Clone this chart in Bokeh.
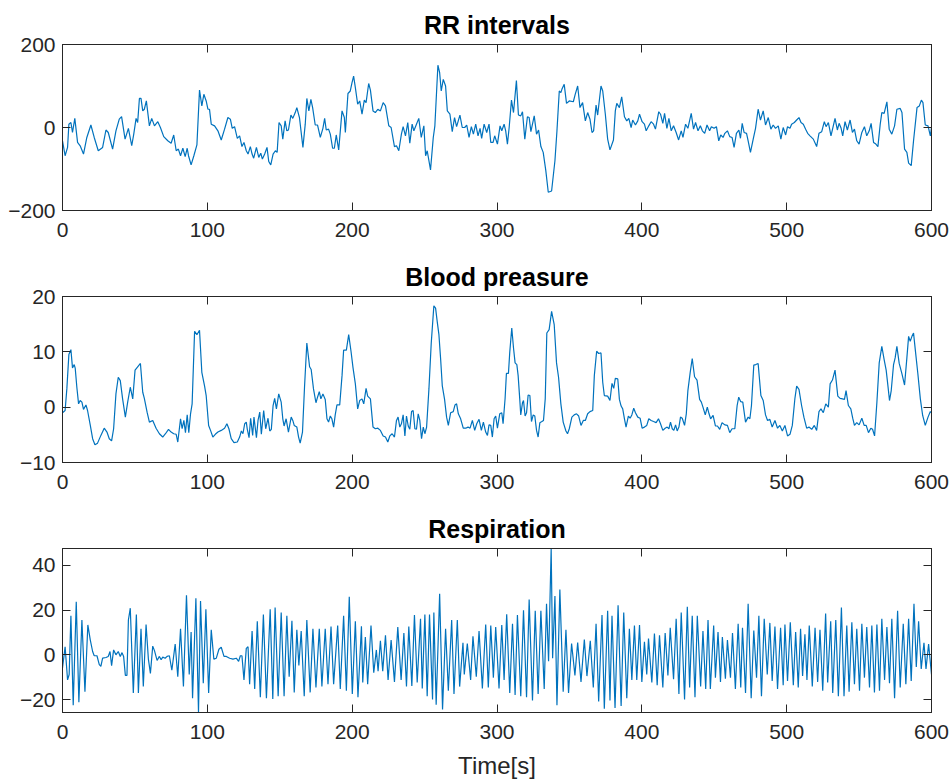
from bokeh.plotting import figure
from bokeh.layouts import column
from bokeh.models import (Range1d, LinearAxis, FixedTicker, ColumnDataSource,
                          CustomJSTickFormatter, CustomLabelingPolicy)
from bokeh.embed import file_html
from bokeh.resources import INLINE

# ---------------- data ----------------
rr_time = [
    0, 1.8, 3.5, 4.4, 5.8, 6.9, 8.5, 10.4, 12.2, 14.5,
    16.8, 19.6, 21.9, 24.7, 27.7, 30, 31.6, 34.6, 36.9, 39.2,
    40.8, 43.2, 45.5, 47.8, 49.2, 50.8, 51.9, 53.1, 54.2, 55.4,
    56.5, 57.9, 60, 61.6, 63.5, 65.8, 67.6, 69.9, 72.7, 75,
    76.8, 78.5, 80, 81.5, 83.1, 84.7, 86.1, 87, 88.8, 90.7,
    92.8, 94.6, 96.2, 97.6, 99.2, 100.4, 101.5, 102.7, 105, 107.3,
    109.6, 111.9, 114.2, 115.9, 117.2, 118.8, 120.7, 122.3, 123.9, 125.3,
    126.9, 128.1, 129.7, 130.9, 132, 133.9, 135.5, 136.9, 138, 139.6,
    141.2, 142.4, 143.8, 145.4, 147, 148.2, 149.5,
    151, 152.1, 153.7, 154.9, 156, 157.7, 159, 160.7, 161.8, 163.6,
    166, 167.6, 168.7, 170.1, 171.5, 172.7, 174.5, 176.1, 178, 179.8,
    181, 182.1, 183.7, 184.9, 186.5, 187.7, 189, 190.7, 193, 194.6,
    195.3, 197.1, 198.7, 199.9, 201, 202.2, 203.8, 205.2, 206.8, 208.4,
    209.6, 211.4, 212.6, 214.4, 216, 217.7, 219.5, 221.4, 223, 225.3,
    226.9, 229.2, 230.6, 232.2, 234, 235.2, 236.8, 238.4, 239.8, 241.4,
    242.6, 244.4, 246, 247.7, 249.5, 250.7, 251.8, 254.1, 256, 257.1,
    259.2, 260.4, 261.5, 262.9, 264.5, 265.7, 267.5, 269.1, 270.7, 272.1,
    274.4, 276, 277.7, 279.1, 280.7, 282.3, 283.7, 285.3, 286.9, 288.3,
    289.4, 291.1, 292.9, 294.5, 295.7, 297.3, 298.4,
    300.3, 302.1, 303.3, 304.9, 306, 307.2, 308.4, 310, 311.4, 313.4,
    314.8, 316.4, 317.6, 319.2, 321, 322.2, 323.4, 325.7, 327.3, 328.7,
    330.3, 331.9, 333.7, 335.4, 337.7, 340, 341.4, 343, 344.1, 344.8,
    346.4, 348, 349.9, 352.7, 354, 355.7, 357.3, 359.1, 361, 362.6,
    364.2, 365.6, 366.7, 368.4, 369.5, 371.8, 373, 374.8, 376.4, 378,
    380.4, 381.7, 382.7, 384.5, 386.1, 388, 389.6, 391, 392.6, 393.7,
    395.6, 397.2, 398.4, 400.2, 401.8, 403, 404.8, 406.4, 408.1, 409.4,
    411.7, 412.9, 414.5, 415.7, 417.3, 418.7, 420.3, 421.9, 423.7, 425.4,
    427.2, 428.4, 430.2, 431.8, 434.1, 435.7, 437.1, 438.8, 440.4, 441.8,
    443.4, 445, 446.8,
    448, 449.9, 451.5, 453.1, 454.5, 456.1, 457.3, 459.1, 460.7, 462.3,
    463.7, 465.3, 467, 468.1, 469.3, 470.6, 472.3, 473.4, 475, 476.9,
    478.5, 480.3, 481.9, 483.8, 485.4, 487.3, 489.1, 490.7, 492.3, 494.2,
    496, 497.6, 499.3, 500.6, 502.3, 503.4, 505.3, 506.9, 508.5, 509.9,
    511.5, 513.1, 514.5, 516.1, 518.4, 520.7, 522.3, 524.2, 526, 527.2,
    528.8, 530.6, 531.8, 533.4, 535, 536.2, 537.6, 538.7, 540.3, 541.9,
    543.8, 545.4, 546.8, 548.4, 550, 551.9, 553.7, 555.3, 557, 558.3,
    560, 561.6, 563, 564.6, 565.7, 567.3, 569.2, 570.8, 572.6, 574.5,
    576.1, 578.4, 579.6, 581.4, 583, 584.2, 586, 587.6, 590, 591.6,
    593, 594.1, 595.7, 597.6, 599.2, 600,
]
rr_value = [
    -32, -68, -48, 8, 12, -12, 22, -36, -44, -64,
    -24, 6, -24, -56, -48, -6, -12, -52, -8, 20,
    26, -28, -2, -44, -16, 22, 12, 70, 70, 40,
    44, 64, 4, 22, 4, 14, 0, -22, -32, -38,
    -18, -56, -52, -68, -50, -70, -50, -68, -90, -68,
    -42, 90, 52, 80, 64, 44, 44, 8, 4, -8,
    -30, -4, 24, 20, -2, 2, -26, -20, -46, -36,
    -56, -64, -46, -64, -74, -48, -72, -62, -76, -64,
    -48, -82, -90, -64, -56, -60, 12,
    4, -28, 16, -8, -6, 30, 22, 36, 48, 24,
    -48, 8, 70, 40, 68, 48, 6, 6, -24, -2,
    22, -6, -4, -16, -50, -50, -18, -54, 40, 24,
    -12, 82, 88, 108, 124, 96, 56, 64, 32, 66,
    60, 106, 90, 40, 36, 44, 40, 60, 52, 4,
    0, -46, -44, -56, -16, 2, -20, 12, -38, 8,
    -8, 8, 22, -24, 4, -68, -56, -102, -24, 4,
    150, 132, 88, 116, 100, 40, 32, -10, 24, 2,
    30, 0, 0, 6, -24, 2, -16, 8, -20, -2,
    -26, 8, -12, 8, -36, -36, -20,
    -40, 4, -8, 8, -8, -40, 0, 66, 36, 113,
    30, 28, 38, -28, 26, 24, -10, 28, -16, -6,
    -46, -60, -104, -156, -153, -80, -8, 88, 84, 92,
    104, 58, 64, 62, 80, 100, 48, 60, 16, 36,
    20, -12, -8, 54, 30, 100, 88, 32, -28, -54,
    -30, 40, 58, 48, 74, 26, 16, 22, 0, 18,
    6, 16, 32, 14, 8, -8, 4, 14, 8, -4,
    38, 32, 10, 34, -2, 22, -8, 4, -12, -30,
    -8, -24, 8, -2, 34, -4, 12, -8, 4, -8,
    -14, 6, -8,
    2, -2, 2, -32, -18, -24, -14, -8, -22, -24,
    -48, -14, -6, -26, 10, -12, -14, -32, -60, -28,
    -2, 44, 18, 40, 6, 24, -4, 6, -2, 4,
    -28, 0, -18, 2, -2, 8, 12, 18, 24, 12,
    8, -4, -14, -20, -28, -46, -14, -10, 14, 2,
    12, -20, -2, 22, -6, 10, -2, -20, 14, -6,
    18, -12, -4, -32, -40, -12, 2, -20, -8, 10,
    -36, -40, -46, 8, 36, 34, 62, -4, -16, 4,
    44, 46, 36, -52, -60, -86, -92, -32, 48, 52,
    66, 60, 6, 4, -20, 0,
]

bp_time = [
    0, 1.8, 3, 4.4, 5.8, 6.9, 8.1, 8.8, 9.9, 11.1,
    12.2, 13.4, 14.5, 16.2, 17.3, 19.2, 20.8, 22.4, 24.2, 26.5,
    28.8, 30.7, 32.3, 33.9, 35.3, 36.9, 38.5, 39.9, 41.5, 43.4,
    45, 46.8, 48.5, 50.1, 51.9, 53.8, 55.4, 56.5, 58.4, 60,
    62.3, 64.6, 66.9, 69.2, 71.1, 73.2, 75, 76.8, 78.5, 79.6,
    81.5, 82.6, 83.8, 84.9, 86.1, 87.2, 88.4, 89.5, 91.2, 92.8,
    94.6, 96.2, 98.1, 99.2, 100.9, 102.2, 103.8, 105.5, 107.3, 109.6,
    111.9, 113.5, 114.9, 116.5, 118.4, 120.7, 122.3, 123.5, 124.6, 125.8,
    126.9, 127.6, 128.8, 129.9, 131.3, 132.2, 133.9, 135, 136.2, 137.3,
    138.9, 140.3, 141.9, 143.1, 144.2, 145.4, 146.5, 147.7, 149.3,
    151, 152.1, 153, 154.4, 156, 157.9, 159, 160, 161.8, 163,
    164.1, 165.7, 167.1, 168.7, 170.6, 171.7, 173.3, 175, 176.1, 177.3,
    178.4, 179.8, 181.4, 182.6, 183.7, 184.9, 186, 187.2, 188.3, 189.5,
    191.4, 193, 194.1, 196, 197.6, 199.2, 200.6, 202.2, 203.8, 205.2,
    206.8, 208, 209.6, 210.7, 212.6, 214.4, 216, 217.7, 219.5, 221.4,
    223, 224.6, 226, 227.6, 229.2, 230.6, 231.7, 232.9, 234, 235.2,
    236.4, 237.5, 238.7, 239.8, 241, 242.1, 243.3, 244.4, 245.6, 246.7,
    247.9, 249.1, 250.2, 251.4, 253, 254.6, 256.4, 257.6, 258.7, 259.9,
    261.1, 262.2, 263.8, 265.2, 266.4, 268, 269.8, 271, 272.1, 273.3,
    274.9, 276.7, 278.4, 280, 281.4, 283, 284.6, 286, 287.6, 289.2,
    290.6, 292.2, 293.4, 294.5, 295.7, 296.8, 298, 299.1,
    300.3, 301.9, 303.3, 304.2, 305.6, 306.5, 307.9, 308.8, 310.2, 311.4,
    312.5, 313.7, 314.6, 315.7, 316.4, 317.6, 318.3, 319.4, 320.4, 321.5,
    322.7, 323.8, 325, 326.1, 327.3, 328.4, 329.6, 331, 332.1, 333.3,
    334.4, 336, 337.7, 339.5, 341.1, 342.5, 344.1, 345.7, 347.6, 348.7,
    349.9, 351.7, 353.3, 354.9, 356.4, 358, 359.6, 361, 362.6, 364.2,
    366.1, 367.2, 368.8, 370.2, 371.8, 373, 374.1, 376.4, 378, 379.4,
    380.6, 381.7, 383.4, 384.5, 385.7, 386.8, 388, 389.1, 390.7, 391.9,
    393.1, 394.4, 395.6, 397.2, 398.8, 400.2, 401.8, 403.4, 404.8, 406.4,
    408.1, 409.9, 411.5, 412.9, 414.5, 416.1, 417.5, 418.7, 419.8, 421,
    422.1, 423.3, 424.4, 425.6, 426.7, 427.9, 429.5, 430.7, 431.8, 433.4,
    434.8, 436.4, 438.1, 439.9, 441.1, 442.2, 443.8, 445.2, 446.4, 447.5,
    449.2, 450.8, 452.2, 453.8, 455.4, 457.3, 459.1, 460.7, 462.3, 464.2,
    465.8, 466.9, 468.3, 469.7, 471.6, 473.4, 474.6, 475.7, 477.3, 478.7,
    480.3, 482.2, 483.8, 485.4, 486.8, 488.4, 490, 491.9, 493.7, 495.3,
    497, 498.8, 500.6, 502.3, 503.9, 505.7, 506.9, 508.5, 510.3, 511.9,
    513.8, 515.4, 517.3, 519.1, 520.7, 522.3, 523.7, 525.3, 527, 528.8,
    530, 531.6, 533.4, 535.3, 536.9, 538.5, 539.9, 541, 542.6, 544.3,
    545.6, 546.8, 548.4, 550, 551.9, 553.5, 554.9, 556.5, 558.1, 559.3,
    560.7, 562.3, 563.9, 565.7, 567.3, 568.7, 569.9, 571, 572.2, 573.8,
    574.9, 576.1, 577.7, 579.6, 581.4, 583, 584.2, 585.3, 586.5, 587.6,
    588.8, 590.6, 592.3, 593.9, 595.7, 597.6, 599.2, 600,
]
bp_value = [
    -1.0, -0.6, 3.3, 9.5, 10.4, 7.1, 7.7, 7.0, 3.6, 0.6,
    1.2, 0.9, -0.4, 0.4, -0.6, -3.3, -5.7, -6.8, -6.5, -5.1,
    -3.8, -4.5, -5.7, -6.1, -3.9, 2.4, 5.4, 4.8, 1.5, -1.8,
    0.9, 3.6, 1.5, 6.7, 7.3, 7.9, 2.7, 1.6, -0.9, -2.7,
    -2.4, -3.8, -4.8, -5.4, -4.8, -4.0, -4.5, -4.8, -4.9, -6.3,
    -2.1, -3.9, -2.4, -4.6, -1.4, -4.6, -1.2, 0.6, 13.7, 13.1,
    13.9, 6.3, 3.8, 2.1, -3.3, -4.2, -5.4, -4.9, -4.5, -4.2,
    -3.8, -3.0, -3.9, -5.7, -6.4, -6.3, -5.4, -4.3, -4.8, -3.0,
    -2.7, -4.0, -5.5, -2.0, -5.1, -1.8, -5.5, -2.4, -0.9, -4.9,
    -0.6, -3.9, -2.0, -4.3, -4.0, 0.3, 1.6, -0.3, 2.4,
    0.9, -2.1, -3.4, -2.1, -4.5, -1.8, -2.4, -3.3, -3.6, -5.4,
    -6.5, -4.5, 3.6, 11.6, 7.3, 6.8, 3.3, 0.8, 1.8, 2.8,
    1.5, 2.4, 1.4, -2.1, -2.7, -1.6, -2.1, -3.6, -1.4, 0.4,
    0.4, 5.7, 10.3, 10.3, 13.1, 10.1, 7.1, 4.2, -0.3, 1.2,
    1.5, 0.6, 3.4, 2.0, 1.5, -3.6, -3.9, -3.8, -4.2, -5.2,
    -5.4, -6.3, -5.2, -4.8, -5.4, -2.4, -1.8, -3.6, -3.0, -1.4,
    -5.2, -1.6, -3.4, -4.0, -0.8, -0.6, -3.9, -4.0, -1.2, -2.4,
    -5.7, -3.6, -4.8, -3.6, 3.3, 11.6, 18.3, 17.9, 15.5, 13.1,
    8.6, 3.9, 1.4, -1.8, -3.3, -1.0, -0.8, 0.4, 0.6, -1.2,
    -2.1, -3.8, -3.8, -3.6, -3.8, -2.4, -4.2, -3.0, -2.2, -4.2,
    -2.7, -4.5, -5.1, -3.2, -3.3, -5.4, -2.1, -1.6,
    -3.8, -1.2, -1.0, -3.0, 1.6, 6.1, 6.1, 9.9, 14.3, 10.7,
    8.0, 7.7, 5.7, 1.5, -1.4, 0.8, 1.2, -1.6, -1.0, 2.2,
    2.1, -2.6, -1.4, -1.6, -4.2, -5.4, -2.8, -2.6, -2.4, 1.5,
    13.4, 14.0, 17.3, 14.9, 8.0, 5.4, 0.6, -2.7, -4.3, -4.8,
    -3.9, -1.8, -1.4, -1.2, -1.6, -3.3, -2.4, -2.4, -1.2, -0.8,
    -0.6, 5.7, 10.1, 9.7, 9.8, 4.5, 2.1, 2.0, 1.2, 4.3,
    3.4, 5.2, 5.1, 1.4, 0.2, -0.3, -2.1, -3.6, -1.6, -2.0,
    -1.4, -0.2, -1.0, -1.8, -2.0, -3.8, -3.6, -3.3, -2.1, -2.4,
    -2.6, -2.8, -2.1, -3.0, -4.2, -3.8, -3.6, -3.9, -2.7, -3.9,
    -4.2, -3.2, -4.3, -3.6, -1.8, -2.0, -3.3, -1.2, 3.0, 6.3,
    8.8, 5.5, 4.9, 1.4, 0.9, 0, -1.4, 0, -1.2, -2.1,
    -1.5, -3.4, -3.4, -4.0, -2.8, -3.2, -3.3, -4.6, -3.9, -3.9,
    0.3, 1.8, 1.0, 0.9, -2.7, -1.8, -2.1, 0.3, 7.6, 7.7,
    7.9, 2.1, 1.2, -1.4, -2.4, -2.2, -3.6, -2.4, -3.8, -3.3,
    -4.3, -3.3, -5.2, -4.9, -3.3, 1.6, 3.8, 3.2, 0.3, -1.8,
    -3.8, -3.6, -4.0, -3.3, -4.2, -0.8, -0.3, -1.0, 0.6, 0,
    4.2, 4.9, 6.7, 2.0, 1.6, 1.5, 1.4, 3.0, 0.3, -0.3,
    -2.0, -3.3, -2.8, -3.2, -2.0, -3.3, -3.3, -4.6, -3.8, -4.0,
    -5.2, 0.9, 8.0, 11.0, 8.6, 6.7, 3.9, 1.2, 3.0, 7.7,
    8.9, 11.0, 7.9, 6.0, 4.0, 8.9, 12.8, 11.9, 12.8, 13.4,
    10.4, 6.0, 1.5, -1.5, -3.3, -1.8, -0.8, -1.0,
]

resp_time = [
    0, 1.8, 3.5, 4.6, 5.8, 7.4, 9.5, 11.3, 13.4, 15.5,
    17.5, 19.2, 20.8, 21.9, 23.8, 25.4, 26.5, 27.7, 30, 31.6,
    32.8, 33.9, 35.3, 36.9, 38.5, 39.9, 41.1, 42.2, 43.4, 44.5,
    45.5, 46.8, 48.9, 51, 52.4, 54.2, 55.8, 57.7, 59.3, 60.7,
    62.3, 63.5, 65.3, 66.9, 68.1, 69.2, 70.9, 72.2, 73.8, 75.5,
    77.8, 79.6, 81.5, 83.5, 85.6, 87.5, 88.8, 89.8, 92.1, 93.9,
    95.3, 97.2, 99, 100.9, 102.7, 104.5, 106.2, 108, 109.6, 111.5,
    113.1, 115.4, 117.7, 120, 121.6, 122.8, 123.9, 125.3, 126.9, 128.1,
    129.2, 130.9, 132.7, 134.5, 136.6, 138.7, 140.8,
    143.4, 145.2, 146.8, 148.9, 151, 153, 154.9, 156.5, 158.4, 160,
    161.8, 163.2, 164.8, 166.9, 168.7, 171, 172.9, 175, 177.3, 179.1,
    181.4, 183.3, 185.4, 187.2, 190, 191.8, 194.1, 196, 198, 200.1,
    202.2, 204, 206.4, 207.3, 209.1, 210.7, 213, 214.9, 216.7, 217.9,
    219.5, 221.1, 223, 224.8, 226.9, 229.2, 231.5, 233.8, 235.7, 237.5,
    239.1, 241.2, 243, 244.9, 247.2, 248.4, 250.2, 251.8, 253.4, 255.5,
    256.4, 258, 260.4, 262.4, 264.5, 266.4, 268.7, 270.3, 272.6, 274.2,
    276.5, 277.4, 279.5, 281.8, 283.4, 285.7, 287.6, 289.9, 292.2, 294,
    295.7, 297.5, 299.1,
    301.4, 303.3, 304.9, 306.7, 308.8, 310.7, 312.5, 314.1, 316.4, 318.3,
    320.4, 322.2, 324.5, 326.4, 328.4, 330.3, 332.6, 334.2, 335.6, 337.4,
    338.4, 340, 341.4, 343.4, 345.7, 347.6, 349.4, 351.5, 353.8, 355.7,
    358, 360.3, 362.1, 364.4, 366.5, 368.4, 370.2, 372.5, 374.1, 376.4,
    378, 379.4, 381.5, 383.6, 385.7, 387.5, 389.6, 391.4, 393.1, 394.9,
    396.5, 398.4, 400, 401.8, 403.4, 404.6, 406.9, 408.7, 410.6, 412.2,
    414.5, 416.1, 418, 419.6, 421.9, 423.7, 425.6, 427.2, 429.5, 431.4,
    433, 434.8, 436.7, 438.3, 440.6, 442.2, 444.1, 445.7, 447.3,
    449.6, 450.8, 452.6, 454.3, 455.6, 457.7, 459.1, 461.2, 462.6, 464.6,
    466.5, 468.3, 469.5, 471.6, 473.4, 475.5, 477.3, 479.2, 480.8, 482.6,
    484.5, 486.6, 488.4, 490, 491.9, 493.7, 495.8, 497.6, 498.8, 500.6,
    502.5, 504.6, 506.2, 508, 509.6, 511, 512.6, 514, 515.6, 517.7,
    519.6, 521.4, 523, 524.9, 526.9, 528.3, 530.4, 531.8, 533.9, 535.7,
    537.8, 539.6, 541.5, 543.1, 545, 546.8, 548.4, 550.3, 551.9, 553.7,
    555.3, 557.2, 558.8, 560.6, 562.3, 564.1, 565.7, 567.6, 569.2, 571,
    572.6, 574.5, 576.6, 578.4, 580.5, 582.3, 584.2, 586, 587.9, 589.5,
    591.1, 592.9, 594.8, 596.2, 598, 600,
]
resp_value = [
    -5.8, 3.6, -11.2, -8.8, 17.5, -22.6, 23.8, -21.2, 15.6, -16.5,
    13.4, 6.6, 1.5, -0.4, -0.4, -4.4, -5.1, -1.5, -1.2, -0.7,
    1.5, -4.8, 2.2, 0, 1.5, -0.7, 1.0, -0.7, -9.2, -9.2,
    15.6, 20.9, -17.1, 18.0, -17.1, 11.7, -14.2, 13.6, -1.9, -8.3,
    3.9, 1.9, -2.5, -0.7, -2.2, -1.0, -1.5, -0.7, -0.4, -6.9,
    4.8, -9.8, 11.7, -14.2, 26.7, -8.8, 10.2, -19.4, 25.3, -25.8,
    24.1, -12.7, 20.4, -17.1, 11.2, -1.9, -1.5, 2.5, 3.4, -0.7,
    -0.7, -1.5, -1.9, -1.5, -2.9, -0.4, -0.4, -11.2, 2.9, 3.6,
    -13.1, 10.7, -15.3, 15.0, -19.0, 18.0, -19.4,
    20.4, -19.7, 21.2, -18.5, 19.0, -18.5, 17.5, -9.8, 15.3, -16.8,
    11.2, -4.8, 10.7, -18.5, 15.6, -16.8, 11.7, -14.6, 11.7, -14.2,
    11.7, -13.1, 12.7, -13.1, 13.1, -15.3, 17.5, -16.1, 26.0, -17.5,
    15.0, -19.0, 12.8, -12.4, 8.0, -13.1, 13.1, -8.0, 2.2, -7.3,
    6.3, -7.3, 8.8, -11.2, 6.6, -12.1, 12.4, -11.2, 9.8, -14.2,
    12.7, -13.9, 17.8, -12.4, 16.1, -15.0, 18.0, -18.5, 18.0, -20.0,
    19.0, -22.3, 27.3, -24.4, 11.7, -16.1, 15.6, -17.5, 15.6, -14.2,
    5.4, -8.8, 5.1, -11.2, 8.3, -9.8, 10.7, -15.0, 13.6, -14.6,
    13.1, -10.2, 12.4,
    -15, 13.4, -11.2, 18.2, -17.1, 13.9, -18, 17.8, -18.5, 20,
    -19, 24.8, -20.4, 19.7, -17.5, 19.7, -15.3, 22.9, -2.9, 47.6,
    -1.5, 26.3, -22.6, 29.2, -16.5, 11.2, -17.1, 5.1, -9.2, 5.5,
    -12.1, 6.9, -9.5, 6.3, -14.6, 13.9, -20.9, 17.8, -24.1, 19.7,
    -20.4, 17.5, -23.8, 22.2, -22.9, 19, -19.4, 11.7, -11.2, 13.1,
    -11.2, 13.4, -12.1, 5.8, -8.8, 7.3, -12.4, 9.5, -13.6, 8.8,
    -14.6, 9.8, -9.2, 12.1, -10.9, 16.1, -17.5, 19, -20, 21.5,
    -14.6, 17.5, -19, 17.5, -14.2, 10.7, -15.3, 15.6, -15.3,
    13.1, -10.2, 10.2, -12.1, 8, -10.7, 6.6, -10.2, 9.8, -15.3,
    13.9, -14.6, 12.1, -17.1, 22.9, -19.4, 10.9, -10.2, 17.5, -18.5,
    16.1, -8.8, 14.3, -11.7, 12.7, -15.3, 12.1, -13.6, 13.6, -11.7,
    14.6, -13.6, 10.2, -14.6, 11.7, -9.5, 9.2, -11.2, 13.1, -14.2,
    12.1, -12.1, 11.2, -16.1, 18.5, -12.4, 15, -17.1, 15.6, -18.5,
    21.2, -18.5, 13.1, -16.5, 14.6, -13.1, 11.7, -16.1, 13.9, -10.2,
    12.4, -14.6, 13.1, -16.8, 13.6, -16.1, 16.1, -11.2, 12.4, -12.7,
    16.1, -19.4, 19.7, -14.6, 13.9, -13.1, 16.1, -11.7, 22.9, -5.4,
    15, -6.3, 5.4, -6.3, 4.8, -8.8,
]

x_ticks = [0, 100, 200, 300, 400, 500, 600]
rr_ticks = [-200, 0, 200]
bp_ticks = [-10, 0, 10, 20]
resp_ticks = [-20, 0, 20, 40]
titles = ["RR intervals", "Blood preasure", "Respiration"]
x_label = "Time[s]"

assert len(rr_time) == len(rr_value)
assert len(bp_time) == len(bp_value)
assert len(resp_time) == len(resp_value)

# ---------------- styling ----------------
LINE_COLOR = "#0072BD"
AXIS_COLOR = "#262626"
FONT = "Liberation Sans"
TICK_SIZE = "21px"
TITLE_SIZE = "25px"

# Unicode minus sign, as in the reference tick labels
PLAIN = "return tick < 0 ? '\\u2212' + String(Math.abs(tick)) : String(tick);"
HIDE = """
try { for (let i = 0; i < indices.size; i++) { indices.unset(i); } } catch (e) {}
return indices;
"""


def style_axis(ax, ticks, show_labels=True, standoff=6):
    ax.ticker = FixedTicker(ticks=ticks)
    ax.major_tick_in = 8
    ax.major_tick_out = 0
    ax.minor_tick_line_color = None
    ax.axis_line_color = AXIS_COLOR
    ax.major_tick_line_color = AXIS_COLOR
    ax.axis_line_width = 1
    ax.major_tick_line_width = 1
    if show_labels:
        ax.formatter = CustomJSTickFormatter(code=PLAIN)
        ax.major_label_text_font = FONT
        ax.major_label_text_font_size = TICK_SIZE
        ax.major_label_text_color = AXIS_COLOR
        ax.major_label_standoff = standoff
    else:
        ax.major_label_policy = CustomLabelingPolicy(code=HIDE)
        ax.major_label_text_font_size = "0px"
        ax.major_label_standoff = 0


def panel(title, t, v, yrange, yticks, height, bottom, xlabel=None):
    p = figure(width=952, height=height, output_backend="svg", toolbar_location=None,
               x_range=Range1d(0, 600), y_range=Range1d(*yrange),
               min_border_left=62, min_border_right=21,
               min_border_top=44, min_border_bottom=bottom,
               background_fill_color="white", border_fill_color="white")
    p.grid.visible = False
    p.outline_line_color = AXIS_COLOR
    src = ColumnDataSource(dict(t=t, v=v))
    p.line(x="t", y="v", source=src, line_color=LINE_COLOR, line_width=1.2)

    bottom_axis = p.below[0]
    left_axis = p.left[0]
    style_axis(bottom_axis, x_ticks, standoff=12)
    style_axis(left_axis, yticks, standoff=7)

    top = LinearAxis()
    style_axis(top, x_ticks, show_labels=False)
    p.add_layout(top, "above")
    right = LinearAxis()
    style_axis(right, yticks, show_labels=False)
    p.add_layout(right, "right")

    p.title.text = title
    p.title.align = "center"
    p.title.text_font = FONT
    p.title.text_font_size = TITLE_SIZE
    p.title.text_font_style = "bold"
    p.title.text_color = "#000000"
    p.title.standoff = 12
    if xlabel:
        bottom_axis.axis_label = xlabel
        bottom_axis.axis_label_text_font = FONT
        bottom_axis.axis_label_text_font_size = "24px"
        bottom_axis.axis_label_text_font_style = "normal"
        bottom_axis.axis_label_text_color = AXIS_COLOR
        bottom_axis.axis_label_standoff = 10
    return p


p1 = panel(titles[0], rr_time, rr_value, (-200, 200), rr_ticks, 252, 42)
p2 = panel(titles[1], bp_time, bp_value, (-10, 20), bp_ticks, 252, 42)
p3 = panel(titles[2], resp_time, resp_value, (-25.8, 47.6), resp_ticks, 277, 67, xlabel=x_label)

layout = column(p1, p2, p3, spacing=0)
open("out.html", "w").write(file_html(layout, INLINE))
